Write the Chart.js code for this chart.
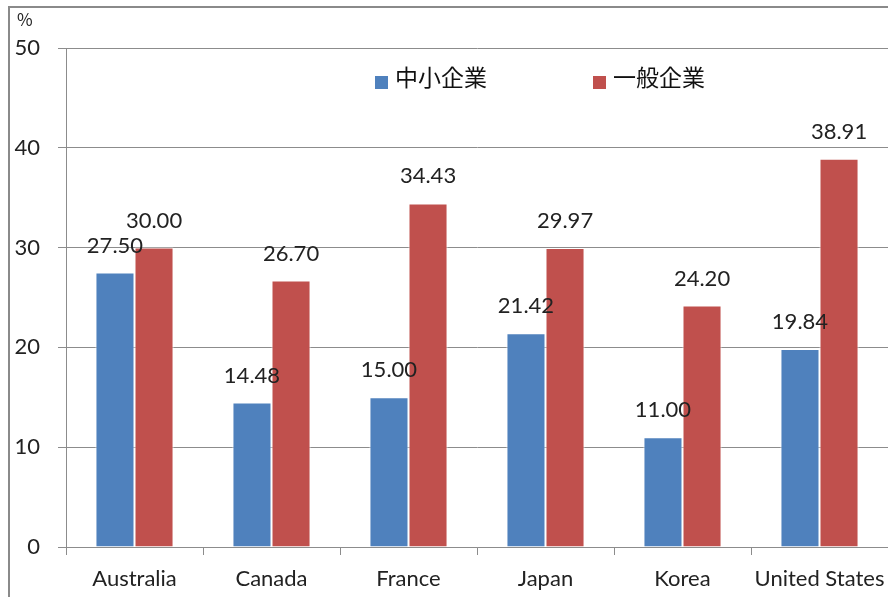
<!DOCTYPE html>
<html>
<head>
<meta charset="utf-8">
<script src="https://cdn.jsdelivr.net/npm/chart.js@4.4.1/dist/chart.umd.min.js"></script>
<style>
  html, body { margin: 0; padding: 0; background: #fff; }
  #wrap { position: relative; width: 888px; height: 597px; }
</style>
</head>
<body>
<div id="wrap"><canvas id="myChart" width="888" height="597"></canvas></div>
<script>
// categories and values
var countries = ['Australia', 'Canada', 'France', 'Japan', 'Korea', 'United States'];
var smeValues = [27.50, 14.48, 15.00, 21.42, 11.00, 19.84];   // 中小企業
var largeValues = [30.00, 26.70, 34.43, 29.97, 24.20, 38.91]; // 一般企業
var seriesNames = ['中小企業', '一般企業'];
var yTicks = [0, 10, 20, 30, 40, 50];

var axisGray = '#8c8c8c';
var latin = 'Lato, "Open Sans", sans-serif';
var cjk = '"Noto Sans CJK JP", sans-serif';

// frame of the original picture plus the "%" unit label
var framePlugin = {
    id: 'frame',
    beforeDraw: function (chart) {
        var ctx = chart.ctx;
        ctx.save();
        ctx.strokeStyle = '#8a8a8a';
        ctx.lineWidth = 2;
        ctx.beginPath();
        ctx.moveTo(9, chart.height);
        ctx.lineTo(9, 7);
        ctx.lineTo(chart.width, 7);
        ctx.stroke();
        ctx.fillStyle = '#222';
        ctx.font = '17px ' + cjk;
        ctx.textBaseline = 'middle';
        ctx.fillText('%', 17, 20);
        ctx.restore();
    }
};

// value labels above each bar
var valueLabels = {
    id: 'valueLabels',
    afterDatasetsDraw: function (chart) {
        var ctx = chart.ctx;
        ctx.save();
        ctx.font = '22px ' + latin;
        ctx.fillStyle = '#222';
        ctx.textAlign = 'center';
        ctx.textBaseline = 'middle';
        chart.data.datasets.forEach(function (ds, i) {
            var meta = chart.getDatasetMeta(i);
            meta.data.forEach(function (bar, j) {
                ctx.fillText(ds.data[j].toFixed(2), bar.x, bar.y - 27);
            });
        });
        ctx.restore();
    }
};

// legend inside the plot, as in the picture
var innerLegend = {
    id: 'innerLegend',
    afterDraw: function (chart) {
        var ctx = chart.ctx;
        var starts = [375, 593];
        ctx.save();
        ctx.font = '23px ' + cjk;
        ctx.textBaseline = 'middle';
        chart.data.datasets.forEach(function (ds, i) {
            var x = starts[i];
            ctx.fillStyle = ds.backgroundColor;
            ctx.fillRect(x, 76, 13, 13);
            ctx.fillStyle = '#111';
            ctx.fillText(ds.label, x + 20, 77);
        });
        ctx.restore();
    }
};

var ctx = document.getElementById('myChart');
var chart = new Chart(ctx, {
    type: 'bar',
    data: {
        labels: countries,
        datasets: [
            {
                label: seriesNames[0],
                data: smeValues,
                backgroundColor: '#4F81BD',
                borderColor: 'rgba(255,255,255,0.9)',
                borderWidth: 1,
                categoryPercentage: 0.57,
                barPercentage: 1.0,
            },
            {
                label: seriesNames[1],
                data: largeValues,
                backgroundColor: '#C0504D',
                borderColor: 'rgba(255,255,255,0.9)',
                borderWidth: 1,
                categoryPercentage: 0.57,
                barPercentage: 1.0,
            },
        ],
    },
    options: {
        responsive: false,
        animation: false,
        layout: { padding: { left: 10, top: 48, right: 0, bottom: 0 } },
        scales: {
            x: {
                grid: {
                    drawOnChartArea: false,
                    drawTicks: true,
                    tickLength: 8,
                    color: axisGray,
                },
                border: { color: axisGray, width: 1 },
                ticks: {
                    color: '#222',
                    font: { family: latin, size: 22 },
                    padding: 11,
                    maxRotation: 0,
                    autoSkip: false,
                },
                afterFit: function (scale) {
                    scale.height = 50;
                    scale.paddingLeft = 0;
                    scale.paddingRight = 0;
                },
            },
            y: {
                min: 0,
                max: 50,
                afterBuildTicks: function (scale) {
                    scale.ticks = yTicks.map(function (v) { return { value: v }; });
                },
                grid: {
                    color: axisGray,
                    tickLength: 8,
                },
                border: { color: axisGray, width: 1 },
                ticks: {
                    color: '#222',
                    font: { family: latin, size: 22 },
                    padding: 18,
                },
                afterFit: function (scale) { scale.width = 56; },
            },
        },
        plugins: {
            legend: { display: false },
            tooltip: { enabled: false },
        },
    },
    plugins: [framePlugin, valueLabels, innerLegend],
});
</script>
</body>
</html>
